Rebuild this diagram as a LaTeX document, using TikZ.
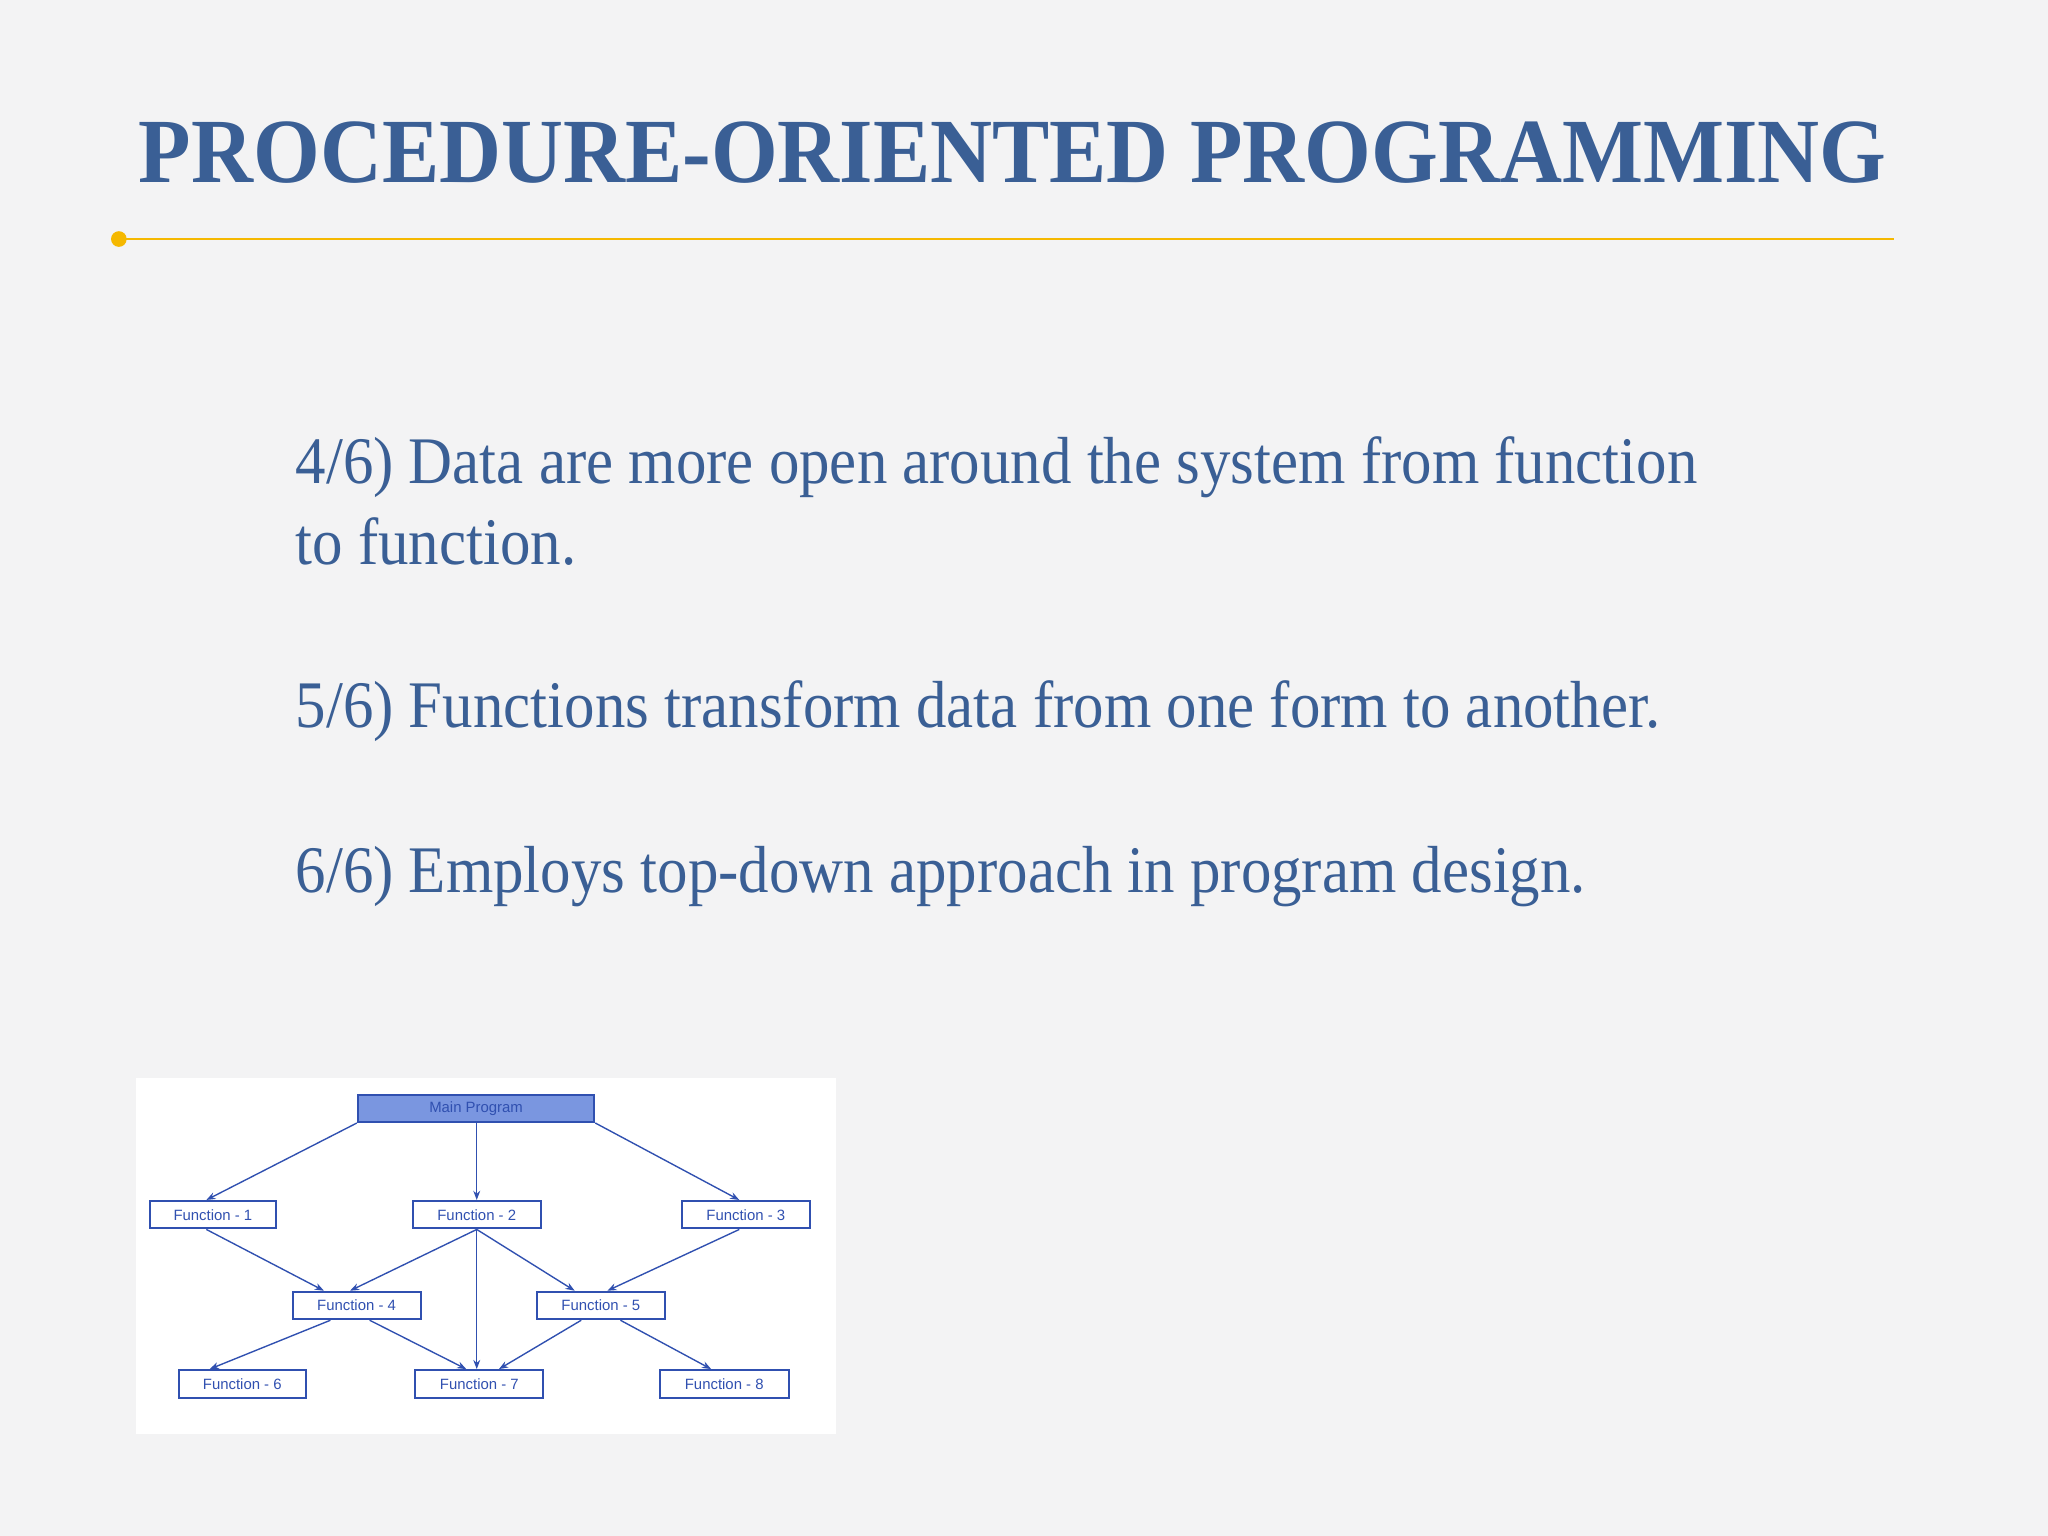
\documentclass[tikz,border=0pt]{standalone}
\usepackage{fontspec}
\usepackage{graphicx}
\setmainfont{Liberation Serif}
\newfontfamily\boxfont{Liberation Sans}
\usetikzlibrary{arrows.meta}
\definecolor{ttl}{HTML}{3A5F95}
\definecolor{gold}{HTML}{F5B800}
\definecolor{bgc}{HTML}{F3F3F4}
\definecolor{dgm}{HTML}{3050B0}
\definecolor{mainfill}{HTML}{7A96E0}
\newcommand{\sqz}[1]{\scalebox{0.915}[1]{#1}}
\tikzset{
 px/.style={x=0.02cm,y=-0.02cm},
 fbox/.style={draw=dgm,line width=0.9pt,fill=white,text=dgm,font=\boxfont\fontsize{6.5}{7}\selectfont,minimum height=0.42cm,inner sep=0pt},
 conn/.style={draw=dgm,line width=0.6pt,-{Stealth[length=4pt,width=3pt]}},
 body/.style={text=ttl,font=\fontsize{29}{36}\selectfont,anchor=base west,inner sep=0pt}
}
\begin{document}
\begin{tikzpicture}[px]
\useasboundingbox (0,0) rectangle (1568,1176);
\fill[bgc] (0,0) rectangle (1568,1176);
\node[anchor=base west,inner sep=0pt,text=ttl,font=\bfseries\fontsize{40}{48}\selectfont] (title) at (106,140) {\scalebox{0.935}[1]{PROCEDURE-ORIENTED PROGRAMMING}};
\coordinate (l1) at (91,183); \coordinate (l2) at (1450,183);
\draw[gold,line width=1.2pt] (l1) -- (l2);
\fill[gold] (l1) circle (6);
\node[body] (t1) at (226,370) {\sqz{4/6) Data are more open around the system from function}};
\node[body] (t2) at (226,432) {\sqz{to function.}};
\node[body] (t3) at (226,557) {\sqz{5/6) Functions transform data from one form to another.}};
\node[body] (t4) at (226,683) {\sqz{6/6) Employs top-down approach in program design.}};
\fill[white] (104,825) rectangle (640,1098);
\node[fbox,fill=mainfill,minimum width=3.62cm] (m) at (364.5,848.5) {Main Program};
\node[fbox,minimum width=1.92cm] (f1) at (163,930) {Function - 1};
\node[fbox,minimum width=1.96cm] (f2) at (365,930) {Function - 2};
\node[fbox,minimum width=1.96cm] (f3) at (571,930) {Function - 3};
\node[fbox,minimum width=1.96cm] (f4) at (273,999.5) {Function - 4};
\node[fbox,minimum width=1.96cm] (f5) at (460,999.5) {Function - 5};
\node[fbox,minimum width=1.94cm] (f6) at (185.5,1059.5) {Function - 6};
\node[fbox,minimum width=1.96cm] (f7) at (367,1059.5) {Function - 7};
\node[fbox,minimum width=1.98cm] (f8) at (554.5,1059.5) {Function - 8};
\draw[conn] (m.south west) -- ([xshift=-0.1cm]f1.north);
\draw[conn] (m.south -| f2.north) -- (f2.north);
\draw[conn] (m.south east) -- ([xshift=-0.1cm]f3.north);
\draw[conn] ([xshift=-0.1cm]f1.south) -- ([xshift=-0.5cm]f4.north);
\draw[conn] (f2.south) -- ([xshift=-0.1cm]f4.north);
\draw[conn] (f2.south) -- ([xshift=-0.4cm]f5.north);
\draw[conn] (f2.south) -- (f2.south |- f7.north);
\draw[conn] ([xshift=-0.1cm]f3.south) -- ([xshift=0.1cm]f5.north);
\draw[conn] ([xshift=-0.4cm]f4.south) -- ([xshift=-0.5cm]f6.north);
\draw[conn] ([xshift=0.2cm]f4.south) -- ([xshift=-0.2cm]f7.north);
\draw[conn] ([xshift=-0.3cm]f5.south) -- ([xshift=0.3cm]f7.north);
\draw[conn] ([xshift=0.3cm]f5.south) -- ([xshift=-0.2cm]f8.north);
\end{tikzpicture}
\end{document}
